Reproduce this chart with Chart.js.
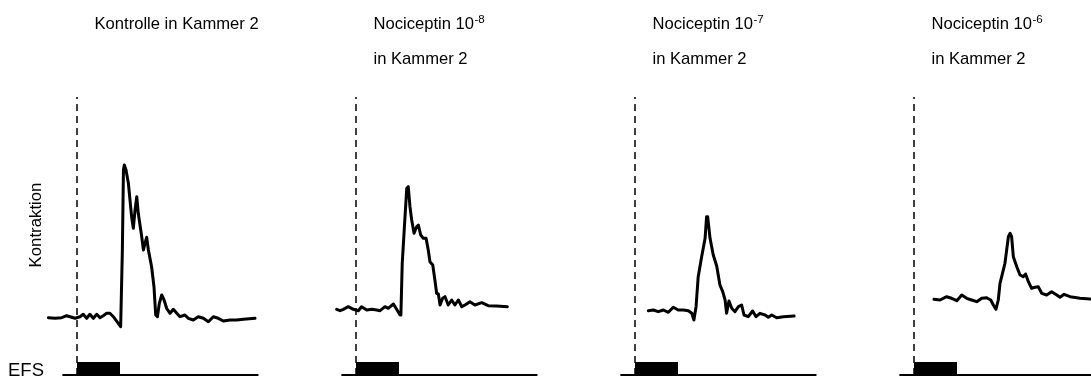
<!DOCTYPE html>
<html>
<head>
<meta charset="utf-8">
<script src="https://cdn.jsdelivr.net/npm/chart.js@4/dist/chart.umd.min.js"></script>
<style>
  html, body { margin: 0; padding: 0; background: #fff; }
  #wrap { position: relative; width: 1091px; height: 380px; overflow: hidden; }
  .panel { position: absolute; top: 0; width: 279px; height: 380px; }
</style>
</head>
<body>
<div id="wrap"></div>
<script>
// Time in s relative to stimulus onset, contraction in arbitrary units
const kontrolleT = [-1.33, -1.02, -0.71, -0.48, -0.33, -0.09, 0.14, 0.29, 0.45, 0.60, 0.76, 0.92, 1.07, 1.22, 1.38, 1.53, 1.69, 1.92, 2.03, 2.11, 2.16, 2.20, 2.28, 2.39, 2.54, 2.62, 2.70, 2.78, 2.85, 3.01, 3.09, 3.16, 3.24, 3.32, 3.47, 3.58, 3.66, 3.74, 3.83, 3.94, 4.05, 4.17, 4.33, 4.48, 4.64, 4.79, 5.02, 5.18, 5.41, 5.64, 5.88, 6.11, 6.34, 6.57, 6.81, 7.12, 7.43, 7.74, 8.28];
const kontrolleY = [5.73, 5.67, 5.73, 5.93, 5.83, 5.67, 5.83, 6.07, 5.67, 6.07, 5.67, 6.07, 5.73, 5.93, 6.17, 6.17, 5.83, 5.17, 4.83, 12.5, 20.5, 21.0, 20.5, 19.17, 15.83, 14.67, 16.5, 17.83, 16.17, 13.83, 12.5, 13.17, 13.77, 12.5, 10.83, 8.83, 6.0, 5.83, 7.17, 8.0, 7.5, 6.67, 6.17, 6.57, 6.17, 5.83, 6.0, 5.67, 5.5, 5.83, 5.67, 5.33, 5.83, 5.67, 5.4, 5.5, 5.5, 5.57, 5.67];

const noc8T = [-0.90, -0.74, -0.59, -0.36, -0.12, 0.11, 0.26, 0.50, 0.73, 0.96, 1.12, 1.35, 1.50, 1.74, 1.89, 2.05, 2.09, 2.15, 2.28, 2.36, 2.43, 2.51, 2.59, 2.70, 2.82, 2.90, 3.01, 3.13, 3.26, 3.36, 3.44, 3.57, 3.67, 3.75, 3.83, 3.91, 4.03, 4.14, 4.29, 4.45, 4.60, 4.76, 4.92, 5.07, 5.30, 5.53, 5.85, 6.15, 6.54, 7.04];
const noc8Y = [6.57, 6.43, 6.57, 6.83, 6.57, 6.43, 6.83, 6.5, 6.57, 6.5, 6.43, 6.83, 6.67, 7.1, 6.57, 6.0, 6.17, 11.17, 15.83, 18.67, 18.83, 16.83, 15.5, 14.17, 14.83, 15.0, 14.0, 13.67, 13.67, 12.5, 11.33, 11.0, 9.5, 8.17, 8.1, 7.0, 7.67, 7.83, 7.0, 7.5, 7.0, 7.5, 6.83, 7.0, 7.33, 7.0, 7.23, 6.93, 6.9, 6.83];

const noc7T = [0.62, 0.85, 1.08, 1.32, 1.55, 1.78, 2.01, 2.25, 2.48, 2.64, 2.74, 2.84, 2.94, 3.10, 3.26, 3.33, 3.38, 3.49, 3.64, 3.80, 3.95, 4.08, 4.19, 4.26, 4.37, 4.50, 4.65, 4.81, 4.96, 5.07, 5.27, 5.47, 5.63, 5.81, 6.05, 6.20, 6.36, 6.59, 6.90, 7.40];
const noc7Y = [6.43, 6.5, 6.33, 6.5, 6.27, 6.77, 6.5, 6.5, 6.43, 6.17, 5.5, 6.83, 9.83, 11.83, 13.67, 15.83, 15.83, 13.67, 12.0, 10.9, 9.0, 8.33, 7.5, 6.17, 7.4, 6.67, 6.33, 6.83, 7.0, 6.0, 5.83, 6.4, 5.83, 6.17, 6.0, 5.77, 6.0, 5.73, 5.83, 5.9];

const noc6T = [0.93, 1.21, 1.52, 1.75, 1.99, 2.22, 2.45, 2.68, 2.92, 3.15, 3.38, 3.57, 3.69, 3.81, 3.92, 4.00, 4.23, 4.39, 4.47, 4.54, 4.62, 4.78, 4.93, 5.08, 5.19, 5.32, 5.47, 5.63, 5.78, 5.94, 6.17, 6.40, 6.64, 6.79, 6.98, 7.26, 7.72, 8.19, 8.65];
const noc6Y = [7.57, 7.5, 7.83, 7.67, 7.43, 8.0, 7.67, 7.5, 7.33, 7.67, 7.73, 7.5, 7.0, 6.57, 7.5, 9.17, 11.17, 13.83, 14.17, 13.83, 11.83, 10.83, 10.0, 9.83, 10.1, 9.33, 8.67, 8.77, 8.83, 8.17, 8.0, 8.33, 8.0, 7.77, 8.07, 7.83, 7.67, 7.6, 7.57];

// EFS stimulus: on from 0 to 2 s, drawn on the stimulus axis
const efsT = [0, 2];
const efsLevel = [1.3, 1.3];
const stimAxisT = [-0.68, 8.44];
const onsetY = [0, 27.8];

const titleMain = ['Kontrolle in Kammer 2', 'Nociceptin 10', 'Nociceptin 10', 'Nociceptin 10'];
const titleExp = ['', '-8', '-7', '-6'];
const titleSub = ['', 'in Kammer 2', 'in Kammer 2', 'in Kammer 2'];

const traces = [[kontrolleT, kontrolleY], [noc8T, noc8Y], [noc7T, noc7Y], [noc6T, noc6Y]];

const pxPerS = 21.5;
const onsetPx = 77;
const panelW = 279;

const toXY = (ts, ys) => ts.map((t, i) => ({ x: t, y: ys[i] }));

const FONT = '"Liberation Sans", Arial, sans-serif';

const labelPlugin = {
  id: 'panelLabels',
  afterDraw(chart, args, opts) {
    const ctx = chart.ctx;
    const x0 = chart.scales.x.getPixelForValue(0) + 17.5;
    ctx.save();
    ctx.fillStyle = '#000';
    ctx.textBaseline = 'alphabetic';
    ctx.textAlign = 'left';
    ctx.font = '16.6px ' + FONT;
    ctx.fillText(opts.main, x0, 29);
    if (opts.exp) {
      const w = ctx.measureText(opts.main).width;
      ctx.font = '11.5px ' + FONT;
      ctx.fillText(opts.exp, x0 + w + 0.5, 23);
      ctx.font = '16.6px ' + FONT;
      ctx.fillText(opts.sub, x0, 64);
    }
    if (opts.first) {
      ctx.font = '18.5px ' + FONT;
      ctx.fillText('EFS', 8, 376);
      ctx.font = '16.8px ' + FONT;
      ctx.translate(40.5, 225);
      ctx.rotate(-Math.PI / 2);
      ctx.textAlign = 'center';
      ctx.fillText('Kontraktion', 0, 0);
    }
    ctx.restore();
  }
};

const wrap = document.getElementById('wrap');

traces.forEach(([ts, ys], i) => {
  const div = document.createElement('div');
  div.className = 'panel';
  div.style.left = (panelW * i) + 'px';
  const canvas = document.createElement('canvas');
  canvas.width = panelW;
  canvas.height = 380;
  div.appendChild(canvas);
  wrap.appendChild(div);

  new Chart(canvas.getContext('2d'), {
    type: 'line',
    data: {
      datasets: [
        {
          data: toXY(ts, ys),
          borderColor: '#000',
          borderWidth: 3,
          borderJoinStyle: 'round',
          borderCapStyle: 'round',
          pointRadius: 0,
          tension: 0
        },
        {
          data: toXY([0, 0], onsetY),
          borderColor: '#000',
          borderWidth: 1.5,
          borderDash: [7, 5],
          pointRadius: 0
        },
        {
          data: toXY(efsT, efsLevel),
          borderColor: '#000',
          borderWidth: 0,
          backgroundColor: '#000',
          fill: 'origin',
          pointRadius: 0
        },
        {
          data: toXY(stimAxisT, [0, 0]),
          borderColor: '#000',
          borderWidth: 2,
          pointRadius: 0
        }
      ]
    },
    options: {
      responsive: false,
      animation: false,
      clip: false,
      layout: { padding: { left: 0, right: 0, top: 0, bottom: 5 } },
      scales: {
        x: { type: 'linear', display: false, min: -onsetPx / pxPerS, max: (panelW - onsetPx) / pxPerS },
        y: { type: 'linear', display: false, min: 0, max: 37.5 }
      },
      plugins: {
        legend: { display: false },
        tooltip: { enabled: false },
        panelLabels: { main: titleMain[i], exp: titleExp[i], sub: titleSub[i], first: i === 0 }
      }
    },
    plugins: [labelPlugin]
  });
});
</script>
</body>
</html>
